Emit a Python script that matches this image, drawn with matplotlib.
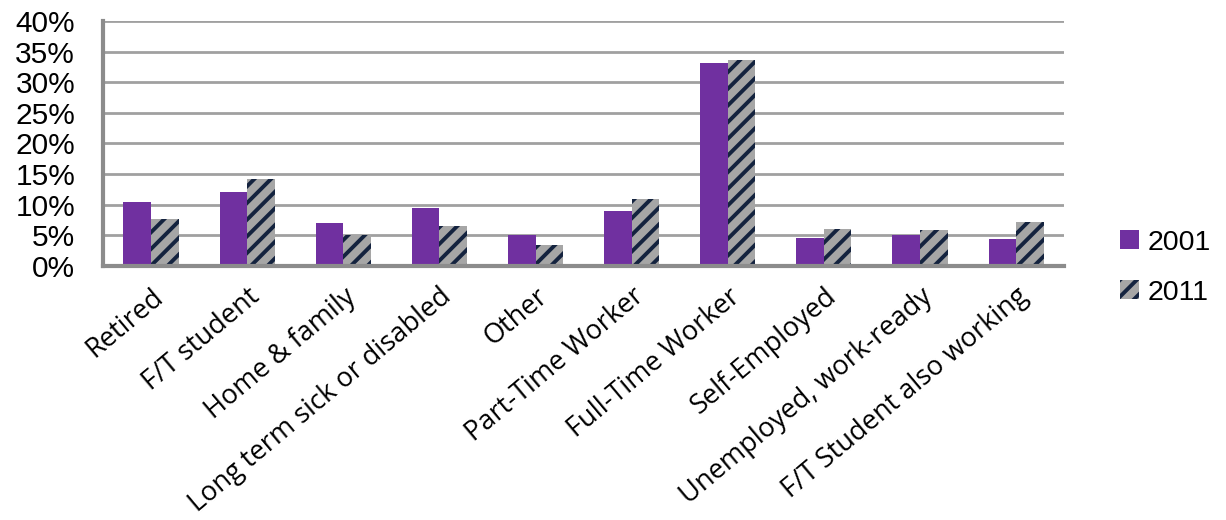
import numpy as np
import matplotlib
matplotlib.use('Agg')
import matplotlib.pyplot as plt
from matplotlib.ticker import FuncFormatter

# economic activity shares, 2001 vs 2011 (%)
categories = ['Retired', 'F/T student', 'Home & family', 'Long term sick or disabled',
              'Other', 'Part-Time Worker', 'Full-Time Worker', 'Self-Employed',
              'Unemployed, work-ready', 'F/T Student also working']
share_2001 = [10.4, 12.1, 7.0, 9.5, 5.1, 8.9, 33.2, 4.6, 5.0, 4.4]
share_2011 = [7.7, 14.2, 5.1, 6.6, 3.4, 10.9, 33.7, 6.1, 5.8, 7.1]
years = ['2001', '2011']

plt.rcParams['hatch.linewidth'] = 2.8

fig = plt.figure(figsize=(12.26, 5.20), dpi=100)
ax = fig.add_axes([0.084, 0.4885, 0.784, 0.4711])

x = np.arange(len(categories))
w = 0.287
b1 = ax.bar(x - w/2, share_2001, w, color='#7030a0', edgecolor='#7030a0', linewidth=0,
            label=years[0], zorder=3)
b2 = ax.bar(x + w/2, share_2011, w, color='#a6a6a6', edgecolor='#14233f', linewidth=0,
            hatch='//', label=years[1], zorder=3)

ax.set_xlim(-0.5, len(categories) - 0.5)
ax.set_ylim(0, 40)
ax.set_yticks(range(0, 41, 5))
ax.yaxis.set_major_formatter(FuncFormatter(lambda v, p: '{:.0f}%'.format(v)))
ax.grid(axis='y', color='#a0a0a0', linewidth=2, zorder=0)
ax.set_axisbelow(True)

for s in ['top', 'right']:
    ax.spines[s].set_visible(False)
for s in ['left', 'bottom']:
    ax.spines[s].set_color('#8c8c8c')
    ax.spines[s].set_linewidth(3)
    ax.spines[s].set_zorder(4)

ax.tick_params(axis='both', length=0)
ax.tick_params(axis='y', pad=20)
for t in ax.get_yticklabels():
    t.set_fontfamily('Liberation Sans')
    t.set_fontsize(21.5)

ax.set_xticks(x)
ax.set_xticklabels(categories, rotation=40, ha='right', rotation_mode='anchor',
                   fontsize=19.5, fontfamily='Open Sans')
ax.tick_params(axis='x', pad=12)

leg = fig.legend(handles=[b1, b2], labels=years, loc='center left',
                 bbox_to_anchor=(0.893, 0.485), frameon=False,
                 prop={'family': 'Liberation Sans', 'size': 20.5},
                 handlelength=0.65, handleheight=0.65, handletextpad=0.3,
                 labelspacing=0.85)

fig.savefig('out.png', dpi=100)
